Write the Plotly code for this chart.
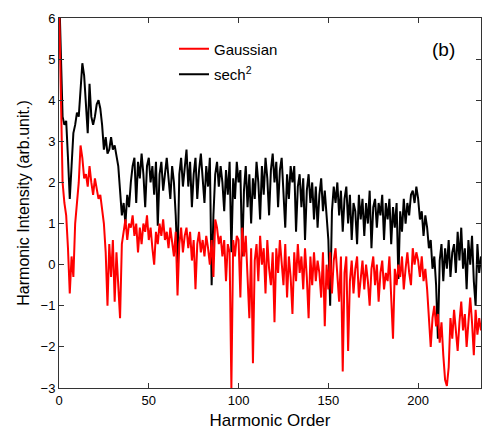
import plotly.graph_objects as go

harmonic = list(range(0, 236))

gaussian = [
    6.5, 4.2, 2.0, 1.5, 1.2, 0.4, -0.7, 0.2, -0.3, 1.0,
    1.6, 2.0, 2.9, 2.6, 2.1, 2.2, 1.9, 2.4, 2.0, 1.7,
    2.1, 1.8, 1.6, 1.7, 1.3, 1.0, 0.3, -1.0, 0.5, -0.3,
    0.6, -0.9, 0.3, -0.5, -1.3, 0.5, 0.8, 1.1, 0.6, 1.0,
    0.9, 1.2, 0.7, 1.0, 0.3, 0.9, 0.5, 1.0, 0.8, 1.2,
    0.6, 0.9, 0.4, 0.0, 0.8, 0.5, 1.0, 0.7, 1.1, 0.6,
    0.8, 0.4, 0.9, 0.6, 0.2, 0.8, -0.75, 0.5, 0.9, 0.3,
    0.7, 0.9, 0.4, 0.8, 0.1, 0.6, -0.6, 0.5, 0.8, 0.3,
    0.6, 0.2, 0.7, 0.4, 0.0, 0.6, -0.3, 1.1, 0.9, 0.5,
    0.7, 0.2, 0.6, -0.4, 0.5, 0.3, -3.0, 0.6, 0.2, 0.7,
    0.6, -0.8, 0.9, 0.2, 0.7, -0.3, -1.3, 0.4, -2.4, 0.1,
    0.5, -0.4, 0.7, 0.0, 0.4, -0.7, 0.6, -0.1, -0.5, 0.3,
    -1.4, 0.4, -0.2, 0.6, 0.0, -0.5, 0.5, -0.8, 0.2, -0.3,
    -1.2, 0.3, -0.4, 0.5, -0.2, 0.2, -0.6, 0.4, -0.3, -1.3,
    0.2, -0.5, 0.3, -0.4, 0.1, -0.2, -0.8, 0.3, -1.5, 0.0,
    -0.6, 0.3, -0.7, 0.1, 0.4, -0.3, -0.9, 0.2, -2.6, -0.2,
    0.2, -2.1, -0.4, 0.1, -0.7, -0.1, 0.2, -0.8, -0.3, 0.1,
    -0.6, 0.0, -0.4, -1.0, -0.1, 0.2, -0.5, 0.0, -0.9, -0.2,
    0.1, -0.6, -0.2, -0.4, 0.2, -0.7, -1.8, -0.1, -0.5, 0.0,
    -0.3, 0.2, -0.6, -0.1, 0.3, -0.2, -0.5, 0.4, 0.0, 0.3,
    0.1, -0.3, 0.2, -0.4, -0.1, -0.6, -1.2, -2.0, -1.3, -1.0,
    -1.5, -1.2, -1.9, -1.4, -2.2, -2.8, -2.95, -2.5, -1.3, -1.8,
    -1.1, -1.7, -2.1, -1.4, -0.9, -1.6, -1.2, -2.0, -1.5, -0.8,
    -1.4, -2.2, -1.1, -1.7, -1.3, -1.6,
]

sech2 = [
    6.8, 5.2, 3.6, 3.4, 3.5, 2.6, 1.6, 2.4, 3.2, 3.4,
    3.7, 3.6, 4.3, 4.9, 4.6, 3.9, 3.2, 4.4, 3.6, 3.4,
    3.6, 3.9, 4.0, 3.8, 3.4, 2.8, 3.1, 2.7, 2.8, 3.1,
    2.8, 2.9, 2.6, 2.4, 1.8, 1.2, 1.5, 1.0, 1.7, 1.4,
    2.0, 2.4, 2.6, 1.5, 2.5, 2.1, 2.7, 2.2, 1.4, 2.4,
    2.6, 2.0, 2.4, 1.7, 2.5, 0.95, 2.2, 2.5, 1.8, 2.3,
    2.6, 2.1, 1.6, 2.4, 2.0, 1.2, 0.0, 2.2, 2.6, 1.9,
    2.3, 2.8, 1.9, 2.5, 1.4, 2.2, 2.6, 1.6, 2.3, 2.7,
    2.1, 1.5, 2.4, 1.9, 2.6, -0.5, 1.2, 2.2, 2.5, 1.9,
    2.4, 2.0, 1.3, 2.3, 1.7, 2.5, 0.3, 2.1, 1.6, 2.5,
    2.0, 2.3, 0.2, 1.8, 2.4, 1.4, 2.2, 1.0, 2.1, 1.6,
    2.5, 2.0, 1.1, 2.4, 1.7, 2.6, 2.1, 1.2, 2.3, 2.7,
    2.0, 2.5, 1.4, 2.3, 2.6, 1.8, 0.9, 2.2, 1.6, 2.4,
    2.0, 2.4, 0.8, 1.9, 2.2, 1.4, 2.1, 0.6, 1.8, 2.2,
    1.5, 2.0, 1.1, 1.9, 0.9, 1.7, 2.1, 1.3, 1.8, 1.2,
    0.6, -1.0, 1.3, 1.9, 1.5, 2.0, 1.2, 1.8, 0.8, 1.6,
    1.9, 1.0, 1.7, 0.6, 1.5, 1.3, 0.5, 1.7, 1.1, 1.6,
    0.7, 1.5, 1.0, 1.8, 0.4, 1.4, 1.6, 0.9, 1.5, 1.2,
    1.7, 0.6, 1.5, 1.1, 1.6, 0.5, 1.4, 0.9, 1.5, -0.35,
    1.3, 0.8, 1.6, 1.0, 1.5, 1.2, 1.7, 1.8, 1.5, 1.9,
    1.6, 1.1, 1.3, 0.7, 1.2, 0.9, 0.4, 0.6, -0.1, 0.2,
    -0.5, -1.8, 0.1, 0.5, -0.4, 0.4, -0.1, 0.6, -0.3, 0.3,
    0.5, -0.2, 0.8, 0.1, 0.9, -0.1, 0.4, -0.6, 0.6, 0.0,
    0.7, -0.4, -1.0, 0.5, -0.2, 0.2,
]

x_ticks = [0, 50, 100, 150, 200]
y_ticks = [-3, -2, -1, 0, 1, 2, 3, 4, 5, 6]

FONT = "Liberation Sans, Arial, sans-serif"

fig = go.Figure()
fig.add_trace(go.Scatter(
    x=harmonic, y=sech2, mode="lines", name="sech<sup>2</sup>",
    line=dict(color="#000000", width=2), legendrank=2, legendgroup="g2",
))
fig.add_trace(go.Scatter(
    x=harmonic, y=gaussian, mode="lines", name="Gaussian",
    line=dict(color="#ff0000", width=2), legendrank=1, legendgroup="g1",
))

axis_common = dict(
    showline=True, linecolor="#333333", linewidth=1, mirror="ticks",
    ticks="inside", ticklen=5, tickcolor="#333333", showgrid=False,
    zeroline=False, tickfont=dict(family=FONT, size=13, color="#000000"),
)

fig.update_layout(
    width=482, height=430,
    margin=dict(l=59, r=1, t=18, b=42),
    paper_bgcolor="white", plot_bgcolor="white",
    font=dict(family=FONT, color="#000000"),
    xaxis=dict(range=[0, 235], tickvals=x_ticks,
               title=dict(text="Harmonic Order", font=dict(size=17), standoff=9),
               **axis_common),
    yaxis=dict(range=[-3, 6], tickvals=y_ticks,
               title=dict(text="Harmonic Intensity (arb.unit.)", font=dict(size=16), standoff=6),
               **axis_common),
    legend=dict(x=0.2725, y=0.961, xanchor="left", yanchor="top",
                bgcolor="rgba(0,0,0,0)", font=dict(size=15),
                traceorder="grouped", tracegroupgap=3, itemwidth=30),
    annotations=[dict(text="(b)", xref="paper", yref="paper", x=0.912, y=0.915,
                      showarrow=False, font=dict(size=19), xanchor="center", yanchor="middle")],
)

fig.write_html("out.html", config={"displayModeBar": False},
               post_script="document.body.style.margin='0';document.body.style.padding='0';")
